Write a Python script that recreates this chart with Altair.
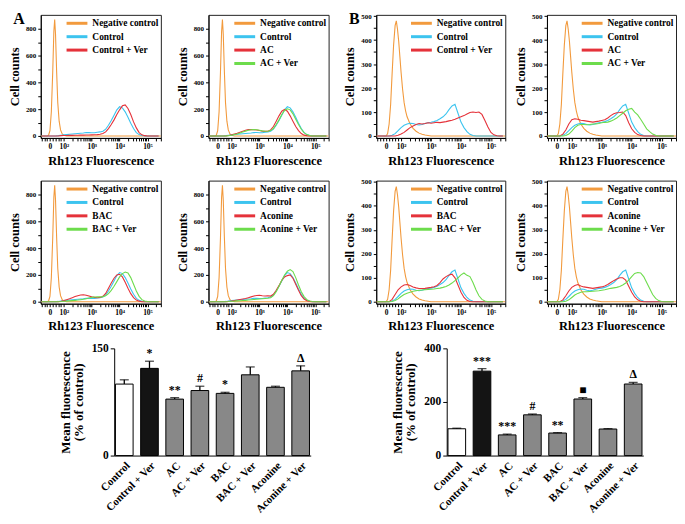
import altair as alt
import pandas as pd

FONT = "Liberation Serif"

# ---------------- histogram data (x in "decade" units of the biexponential axis) -------------
GRID = [1.2, 1.3, 1.4, 1.5, 1.6, 1.7, 1.8, 1.9, 2.0, 2.1, 2.2, 2.3, 2.4, 2.5, 2.6, 2.7, 2.8,
        2.9, 3.0, 3.1, 3.2, 3.3, 3.4, 3.5, 3.6, 3.7, 3.8, 3.9, 4.0, 4.1, 4.2, 4.3, 4.4, 4.5,
        4.6, 4.7, 4.8, 4.9, 5.0, 5.1, 5.2, 5.3, 5.4]

NEG_A_X = [1.17, 1.40, 1.45, 1.50, 1.55, 1.60, 1.64, 1.67, 1.70, 1.74, 1.78, 1.83, 1.88, 1.94, 2.00, 2.10, 5.48]
NEG_A_Y = [0, 0, 5, 40, 180, 480, 780, 870, 760, 480, 250, 110, 45, 15, 5, 0, 0]

NEG_B_X = [1.17, 1.50, 1.55, 1.60, 1.65, 1.70, 1.75, 1.80, 1.84, 1.88, 1.92, 1.96, 2.00, 2.05, 2.10,
           2.15, 2.20, 2.30, 2.40, 2.50, 2.60, 2.70, 2.80, 2.90, 3.00, 5.48]
NEG_B_Y = [0, 0, 10, 50, 130, 260, 380, 460, 480, 445, 395, 330, 265, 195, 140,
           105, 80, 50, 32, 20, 12, 7, 4, 2, 0, 0]

A_CONTROL = [0, 0, 0, 0, 0, 0, 2, 5, 8, 10, 12, 14, 16, 18, 20, 22, 25, 26, 24, 24, 28, 30, 35, 50,
             80, 115, 155, 195, 218, 210, 180, 140, 95, 55, 25, 10, 3, 0, 0, 0, 0, 0, 0]
A_CTRL_VER = [0, 0, 0, 0, 0, 0, 0, 2, 3, 3, 4, 4, 5, 5, 6, 6, 7, 7, 8, 9, 10, 12, 18, 30, 55, 85,
              120, 160, 195, 225, 232, 205, 160, 105, 60, 25, 8, 2, 0, 0, 0, 0, 0]
A_AC = [0, 0, 0, 0, 0, 0, 0, 3, 8, 14, 20, 28, 35, 42, 47, 48, 46, 44, 40, 36, 34, 35, 45, 70, 110,
        150, 185, 198, 185, 150, 110, 70, 40, 18, 6, 2, 0, 0, 0, 0, 0, 0, 0]
A_AC_VER = [0, 0, 0, 0, 0, 0, 0, 2, 5, 10, 15, 22, 30, 36, 42, 46, 48, 46, 42, 38, 35, 35, 40, 55,
            85, 120, 160, 190, 203, 195, 165, 125, 85, 50, 25, 10, 3, 0, 0, 0, 0, 0, 0]
A_BAC = [0, 0, 0, 0, 0, 0, 0, 3, 8, 15, 22, 30, 38, 45, 50, 52, 48, 42, 36, 32, 30, 32, 40, 62, 100,
         140, 175, 200, 205, 185, 145, 100, 60, 30, 12, 4, 0, 0, 0, 0, 0, 0, 0]
A_BAC_VER = [0, 0, 0, 0, 0, 0, 0, 1, 3, 4, 6, 8, 10, 12, 15, 18, 22, 28, 32, 35, 36, 36, 38, 45, 60,
             85, 115, 150, 185, 210, 222, 215, 180, 130, 80, 40, 15, 5, 1, 0, 0, 0, 0]
A_ACO = [0, 0, 0, 0, 0, 0, 0, 2, 5, 8, 12, 16, 20, 24, 30, 36, 42, 46, 48, 44, 42, 44, 42, 55, 85,
         120, 160, 185, 195, 200, 175, 130, 85, 45, 20, 7, 2, 0, 0, 0, 0, 0, 0]
A_ACO_VER = [0, 0, 0, 0, 0, 0, 0, 1, 3, 4, 6, 7, 9, 10, 12, 14, 16, 18, 20, 22, 24, 26, 30, 45, 75,
             115, 160, 200, 228, 240, 225, 180, 125, 75, 38, 15, 5, 1, 0, 0, 0, 0, 0]

B_CONTROL = [0, 0, 0, 0, 0, 3, 10, 22, 35, 45, 50, 53, 52, 48, 46, 48, 52, 55, 57, 60, 65, 72, 80,
             92, 110, 125, 132, 95, 58, 35, 18, 7, 2, 0, 0, 0, 0, 0, 0, 0, 0, 0, 0]
B_CTRL_VER = [0, 0, 0, 0, 0, 0, 0, 3, 8, 15, 25, 35, 42, 48, 52, 50, 52, 55, 53, 55, 57, 56, 58,
              60, 63, 66, 70, 75, 80, 85, 92, 98, 100, 98, 100, 90, 65, 38, 15, 5, 1, 0, 0]
B_AC = [0, 0, 0, 0, 0, 8, 25, 50, 68, 72, 70, 66, 64, 62, 60, 58, 60, 62, 65, 68, 75, 85, 93, 97,
        98, 100, 85, 55, 30, 15, 6, 2, 0, 0, 0, 0, 0, 0, 0, 0, 0, 0, 0]
B_AC_VER = [0, 0, 0, 0, 0, 0, 2, 8, 20, 35, 45, 48, 48, 47, 48, 50, 50, 52, 55, 57, 58, 62, 68, 75,
            85, 95, 105, 112, 115, 100, 88, 70, 50, 30, 18, 8, 3, 0, 0, 0, 0, 0, 0]
B_BAC = [0, 0, 0, 0, 0, 10, 30, 50, 62, 70, 72, 68, 62, 58, 55, 55, 56, 58, 60, 63, 68, 80, 95, 105,
         112, 115, 100, 70, 40, 18, 6, 1, 0, 0, 0, 0, 0, 0, 0, 0, 0, 0, 0]
B_BAC_VER = [0, 0, 0, 0, 0, 1, 5, 12, 22, 30, 36, 40, 44, 46, 48, 49, 50, 51, 52, 53, 55, 57, 60, 64,
             70, 78, 88, 100, 112, 120, 110, 105, 80, 50, 25, 10, 3, 0, 0, 0, 0, 0, 0]
B_ACO = [0, 0, 0, 0, 0, 8, 25, 45, 60, 68, 72, 66, 62, 60, 58, 56, 58, 60, 62, 66, 72, 80, 88, 95,
         100, 100, 90, 65, 40, 20, 8, 2, 0, 0, 0, 0, 0, 0, 0, 0, 0, 0, 0]
B_ACO_VER = [0, 0, 0, 0, 0, 0, 2, 8, 18, 28, 35, 40, 42, 42, 43, 44, 45, 46, 48, 50, 53, 56, 58, 60,
             64, 70, 78, 90, 105, 118, 122, 120, 105, 80, 55, 30, 14, 5, 1, 0, 0, 0, 0]

# axis ticks of the histograms
X_MAJOR = [1.5, 2, 3, 4, 5]
X_LABELS = ["0", "10²", "10³", "10⁴", "10⁵"]
X_MINOR = [1.2, 1.3, 1.4, 1.6, 1.7, 1.8, 1.9,
           2.301, 2.477, 2.602, 2.699, 2.778, 2.845, 2.903, 2.954,
           3.301, 3.477, 3.602, 3.699, 3.778, 3.845, 3.903, 3.954,
           4.301, 4.477, 4.602, 4.699, 4.778, 4.845, 4.903, 4.954,
           5.301, 5.477]
YA_TICKS = [0, 100, 200, 300, 400, 500, 600, 700, 800]
YB_TICKS = [0, 50, 100, 150, 200, 250, 300, 350, 400, 450, 500]

C_NEG, C_CTRL, C_RED, C_GREEN = "#f29a3d", "#3cc4ef", "#e5323a", "#6ddc4c"

# ---------------- bar data ----------------
CATS = ["Control", "Control + Ver", "AC", "AC + Ver", "BAC", "BAC + Ver", "Aconine", "Aconine + Ver"]
A_MEAN = [100, 122, 79, 91, 87, 113, 95.5, 118.5]
A_ERR = [6, 10, 2, 6, 1.5, 11, 1.5, 7]
A_MARK = ["", "*", "**", "#", "*", "", "", "Δ"]
B_MEAN = [100, 315, 77, 152, 84, 211, 99, 267]
B_ERR = [2, 9, 3, 3, 1.5, 5, 1.5, 6]
B_MARK = ["", "***", "***", "#", "**", "■", "", "Δ"]
BAR_FILL = ["#ffffff", "#141414", "#888888", "#888888", "#888888", "#888888", "#888888", "#888888"]

HIST_H = 124
XDOM = [1.17, 5.48]

label_expr = " : ".join(
    f"datum.value == {v} ? '{l}'" for v, l in zip(X_MAJOR, X_LABELS)
) + " : ''"


def hist(series, width, group, letter=None):
    rows = []
    for name, xs, ys, _ in series:
        for x, y in zip(xs, ys):
            rows.append({"x": x, "y": y, "s": name})
    df = pd.DataFrame(rows)
    names = [s[0] for s in series]
    cols = [s[3] for s in series]
    if group == "A":
        ydom, yvals, ystep = [-15, 905], YA_TICKS, 200
    else:
        ydom, yvals, ystep = [-8, 505], YB_TICKS, 100
    line = alt.Chart(df).mark_line(strokeWidth=1.1, clip=True).encode(
        x=alt.X("x:Q", scale=alt.Scale(domain=XDOM, nice=False, zero=False),
                axis=alt.Axis(values=X_MAJOR + X_MINOR, labelExpr=label_expr,
                              title="Rh123 Fluorescence", grid=False, tickSize=3,
                              labelFont=FONT, labelFontWeight="bold", labelFontSize=7.5,
                              labelColor="black", labelPadding=2, labelOverlap=False,
                              titleFont=FONT, titleFontWeight="bold", titleFontSize=12.5,
                              titleColor="black", titlePadding=4,
                              domainColor="black", tickColor="black")),
        y=alt.Y("y:Q", scale=alt.Scale(domain=ydom, nice=False, zero=False),
                axis=alt.Axis(values=yvals,
                              labelExpr=f"datum.value % {ystep} == 0 ? datum.label : ''",
                              title="Cell counts", grid=False, tickSize=3,
                              labelFont=FONT, labelFontWeight="bold", labelFontSize=7,
                              labelColor="black", labelPadding=2, labelOverlap=False,
                              titleFont=FONT, titleFontWeight="bold", titleFontSize=12.5,
                              titleColor="black", titlePadding=4,
                              domainColor="black", tickColor="black")),
        color=alt.Color("s:N", scale=alt.Scale(domain=names, range=cols),
                        legend=alt.Legend(title=None, orient="top-right", offset=2, padding=0,
                                          symbolType="M-2.1,0H2.1", symbolSize=100,
                                          symbolStrokeWidth=3, labelFont=FONT,
                                          labelFontWeight="bold", labelFontSize=9.5,
                                          labelColor="black", rowPadding=0.5, labelOffset=9,
                                          labelLimit=200)),
    )
    layers = [line]
    if letter:
        layers.append(
            alt.Chart(pd.DataFrame({"t": [letter]})).mark_text(
                font=FONT, fontWeight="bold", fontSize=16, align="center", baseline="middle",
                color="black"
            ).encode(text="t:N", x=alt.value(-22), y=alt.value(4))
        )
    return alt.layer(*layers).properties(
        width=width, height=HIST_H,
        view=alt.ViewBackground(stroke="#222222", strokeWidth=1),
    )


def bars(means, errs, marks, ymax, ystep):
    df = pd.DataFrame({"cat": CATS, "mean": means,
                       "top": [m + e for m, e in zip(means, errs)], "mark": marks})
    x = alt.X("cat:N", sort=CATS, title=None,
              scale=alt.Scale(paddingInner=0.3, paddingOuter=0.05),
              axis=alt.Axis(labelAngle=-45, ticks=False, labelFont=FONT,
                            labelFontWeight="bold", labelFontSize=11, labelColor="black",
                            labelPadding=4, domainColor="black"))
    yvals = list(range(0, ymax + 1, ystep))
    y = alt.Y("mean:Q", scale=alt.Scale(domain=[0, ymax], nice=False),
              axis=alt.Axis(values=yvals, grid=False, title=["Mean fluorescence", "(% of control)"],
                            tickSize=4, labelFont=FONT, labelFontWeight="bold",
                            labelFontSize=11.5, labelColor="black", titleFont=FONT,
                            titleFontWeight="bold", titleFontSize=13, titleColor="black",
                            titlePadding=6, domainColor="black", tickColor="black",
                            titleLineHeight=13))
    base = alt.Chart(df)
    b = base.mark_bar(stroke="black", strokeWidth=1).encode(
        x=x, y=y,
        fill=alt.Fill("cat:N", scale=alt.Scale(domain=CATS, range=BAR_FILL), legend=None))
    rule = base.mark_rule(color="black", strokeWidth=1.3).encode(x=x, y="mean:Q", y2="top:Q")
    cap = base.mark_tick(color="black", thickness=1.3, size=9).encode(x=x, y="top:Q")
    txt = base.mark_text(font=FONT, fontWeight="bold", fontSize=12, baseline="bottom",
                         dy=-1, color="black").encode(x=x, y="top:Q", text="mark:N")
    return alt.layer(b, rule, cap, txt).properties(width=198, height=108)


WA, WB = 121, 130

A1 = hist([("Negative control", NEG_A_X, NEG_A_Y, C_NEG), ("Control", GRID, A_CONTROL, C_CTRL),
           ("Control + Ver", GRID, A_CTRL_VER, C_RED)], WA, "A", "A")
A2 = hist([("Negative control", NEG_A_X, NEG_A_Y, C_NEG), ("Control", GRID, A_CONTROL, C_CTRL),
           ("AC", GRID, A_AC, C_RED), ("AC + Ver", GRID, A_AC_VER, C_GREEN)], WA, "A")
A3 = hist([("Negative control", NEG_A_X, NEG_A_Y, C_NEG), ("Control", GRID, A_CONTROL, C_CTRL),
           ("BAC", GRID, A_BAC, C_RED), ("BAC + Ver", GRID, A_BAC_VER, C_GREEN)], WA, "A")
A4 = hist([("Negative control", NEG_A_X, NEG_A_Y, C_NEG), ("Control", GRID, A_CONTROL, C_CTRL),
           ("Aconine", GRID, A_ACO, C_RED), ("Aconine + Ver", GRID, A_ACO_VER, C_GREEN)], WA, "A")
B1 = hist([("Negative control", NEG_B_X, NEG_B_Y, C_NEG), ("Control", GRID, B_CONTROL, C_CTRL),
           ("Control + Ver", GRID, B_CTRL_VER, C_RED)], WB, "B", "B")
B2 = hist([("Negative control", NEG_B_X, NEG_B_Y, C_NEG), ("Control", GRID, B_CONTROL, C_CTRL),
           ("AC", GRID, B_AC, C_RED), ("AC + Ver", GRID, B_AC_VER, C_GREEN)], WB, "B")
B3 = hist([("Negative control", NEG_B_X, NEG_B_Y, C_NEG), ("Control", GRID, B_CONTROL, C_CTRL),
           ("BAC", GRID, B_BAC, C_RED), ("BAC + Ver", GRID, B_BAC_VER, C_GREEN)], WB, "B")
B4 = hist([("Negative control", NEG_B_X, NEG_B_Y, C_NEG), ("Control", GRID, B_CONTROL, C_CTRL),
           ("Aconine", GRID, B_ACO, C_RED), ("Aconine + Ver", GRID, B_ACO_VER, C_GREEN)], WB, "B")


def hc(*charts, spacing):
    return alt.hconcat(*charts, spacing=spacing).resolve_scale(color="independent").resolve_legend(color="independent")


# invisible spacer that indents the bar-chart row
spacer = alt.Chart(pd.DataFrame({"v": [0]})).mark_point(opacity=0).encode(
    x=alt.value(0), y=alt.value(0)).properties(width=18, height=10)

row1 = hc(hc(A1, A2, spacing=14), hc(B1, B2, spacing=8), spacing=14)
row2 = hc(hc(A3, A4, spacing=14), hc(B3, B4, spacing=8), spacing=14)
row3 = alt.hconcat(
    spacer,
    alt.hconcat(bars(A_MEAN, A_ERR, A_MARK, 150, 50), bars(B_MEAN, B_ERR, B_MARK, 400, 100),
                spacing=81).resolve_scale(fill="independent"),
    spacing=0)

chart = alt.vconcat(row1, row2, row3, spacing=9).resolve_scale(
    color="independent", fill="independent").resolve_legend(color="independent").properties(
    padding=0).configure_view(stroke=None)

chart.save("out.html", embed_options={"renderer": "svg", "actions": False})
